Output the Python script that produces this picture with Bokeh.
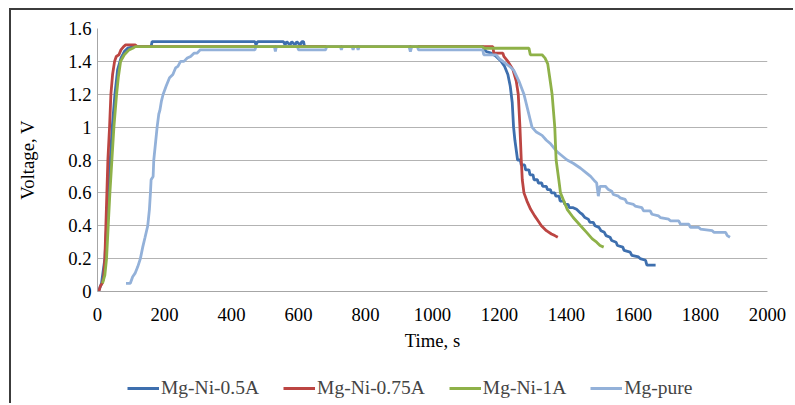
from bokeh.plotting import figure
from bokeh.layouts import column
from bokeh.models import (Legend, LegendItem, FixedTicker, CustomJSTickFormatter, Range1d)
from bokeh.embed import file_html
from bokeh.resources import INLINE

# ---- data ----
t_05 = [3, 12, 22, 30, 38, 44, 52, 60, 70, 80, 90, 110, 160, 163, 470, 473, 478, 555, 560, 565,
        575, 580, 590, 595, 605, 610, 615, 618, 1150, 1160, 1175, 1190, 1205, 1215, 1225, 1232,
        1238, 1242, 1246, 1254, 1262, 1265, 1275, 1278, 1288, 1291, 1300, 1303, 1313, 1316, 1326,
        1329, 1340, 1343, 1352, 1355, 1365, 1368, 1378, 1381, 1392, 1395, 1405, 1408, 1420, 1430,
        1440, 1447, 1455, 1465, 1470, 1480, 1485, 1497, 1503, 1513, 1518, 1530, 1535, 1548, 1552,
        1568, 1572, 1590, 1595, 1615, 1620, 1636, 1640, 1666]
v_05 = [0.0, 0.05, 0.2, 0.5, 0.8, 1.0, 1.2, 1.35, 1.42, 1.46, 1.48, 1.49, 1.49, 1.52, 1.52, 1.50,
        1.52, 1.52, 1.50, 1.52, 1.50, 1.52, 1.50, 1.52, 1.50, 1.52, 1.52, 1.49, 1.49, 1.46, 1.45,
        1.43, 1.40, 1.37, 1.32, 1.25, 1.15, 1.0, 0.92, 0.80, 0.80, 0.77, 0.77, 0.74, 0.74, 0.71,
        0.71, 0.68, 0.68, 0.66, 0.66, 0.64, 0.64, 0.62, 0.62, 0.60, 0.60, 0.58, 0.58, 0.55, 0.55,
        0.53, 0.53, 0.51, 0.51, 0.50, 0.48, 0.47, 0.45, 0.44, 0.42, 0.42, 0.40, 0.39, 0.37, 0.36,
        0.34, 0.33, 0.31, 0.30, 0.28, 0.27, 0.25, 0.24, 0.22, 0.21, 0.20, 0.19, 0.16, 0.16]

t_075 = [4, 8, 14, 18, 22, 25, 28, 31, 36, 40, 45, 51, 56, 64, 70, 78, 84, 113, 118, 1180, 1183,
         1210, 1213, 1225, 1240, 1250, 1256, 1261, 1265, 1268, 1273, 1282, 1293, 1305, 1315, 1325,
         1340, 1355, 1365, 1374]
v_075 = [0.0, 0.03, 0.05, 0.08, 0.2, 0.4, 0.6, 0.8, 1.0, 1.2, 1.32, 1.40, 1.43, 1.44, 1.47, 1.49,
         1.50, 1.50, 1.49, 1.49, 1.45, 1.45, 1.43, 1.40, 1.35, 1.28, 1.2, 1.0, 0.8, 0.68, 0.60,
         0.55, 0.50, 0.46, 0.43, 0.40, 0.37, 0.35, 0.34, 0.33]

t_1 = [15, 22, 27, 32, 37, 43, 49, 57, 62, 69, 80, 94, 105, 113, 1148, 1155, 1288, 1292, 1327,
       1336, 1344, 1350, 1357, 1365, 1369, 1377, 1382, 1392, 1402, 1420, 1442, 1460, 1477, 1490,
       1500, 1511]
v_1 = [0.05, 0.10, 0.2, 0.4, 0.6, 0.8, 1.0, 1.2, 1.3, 1.40, 1.44, 1.47, 1.48, 1.49, 1.49, 1.48,
       1.48, 1.44, 1.44, 1.42, 1.385, 1.30, 1.2, 1.0, 0.8, 0.68, 0.60, 0.55, 0.50, 0.45, 0.40,
       0.36, 0.32, 0.30, 0.28, 0.27]

t_pure = [85, 98, 105, 112, 120, 128, 135, 142, 150, 155, 158, 160, 166, 168, 173, 178, 183, 186,
          191, 196, 205, 215, 225, 233, 240, 248, 258, 268, 278, 288, 297, 307, 470, 473, 528,
          531, 534, 597, 600, 681, 684, 725, 728, 731, 760, 763, 766, 775, 778, 781, 930, 934,
          938, 955, 958, 1150, 1153, 1190, 1200, 1213, 1230, 1243, 1258, 1273, 1285, 1297, 1310,
          1327, 1340, 1352, 1372, 1390, 1402, 1420, 1442, 1460, 1472, 1485, 1490, 1495, 1500,
          1516, 1525, 1535, 1540, 1555, 1560, 1575, 1580, 1600, 1605, 1625, 1630, 1650, 1655,
          1675, 1680, 1705, 1710, 1735, 1740, 1765, 1770, 1795, 1800, 1835, 1840, 1875, 1880, 1888]
v_pure = [0.05, 0.05, 0.09, 0.11, 0.15, 0.2, 0.27, 0.33, 0.4, 0.5, 0.6, 0.68, 0.70, 0.8, 0.9,
          1.0, 1.08, 1.1, 1.16, 1.2, 1.25, 1.30, 1.32, 1.36, 1.37, 1.40, 1.40, 1.42, 1.43, 1.45,
          1.45, 1.47, 1.47, 1.49, 1.49, 1.46, 1.49, 1.49, 1.47, 1.47, 1.49, 1.49, 1.47, 1.49,
          1.49, 1.47, 1.49, 1.49, 1.47, 1.49, 1.49, 1.46, 1.49, 1.49, 1.47, 1.47, 1.44, 1.44,
          1.415, 1.395, 1.37, 1.344, 1.28, 1.2, 1.1, 1.0, 0.97, 0.95, 0.92, 0.90, 0.85, 0.82,
          0.80, 0.78, 0.75, 0.72, 0.70, 0.67, 0.66, 0.58, 0.64,
          0.64, 0.62, 0.61, 0.59, 0.58, 0.57, 0.56, 0.54, 0.53, 0.52, 0.51, 0.49, 0.49, 0.47,
          0.46, 0.45, 0.44, 0.43, 0.43, 0.41, 0.41, 0.39, 0.39, 0.38, 0.37, 0.36, 0.36, 0.34, 0.33]

series_names = ["Mg-Ni-0.5A", "Mg-Ni-0.75A", "Mg-Ni-1A", "Mg-pure"]
x_ticks = [0, 200, 400, 600, 800, 1000, 1200, 1400, 1600, 1800, 2000]
y_ticks = [0, 0.2, 0.4, 0.6, 0.8, 1.0, 1.2, 1.4, 1.6]

colors = ["#3e6fae", "#bc4542", "#8eb148", "#93b1d9"]
FONT = "Liberation Serif"
series = [(t_05, v_05), (t_075, v_075), (t_1, v_1), (t_pure, v_pure)]

# ---- main chart ----
p = figure(width=784, height=351, output_backend="svg", toolbar_location=None,
           x_range=Range1d(0, 2000), y_range=Range1d(0, 1.6),
           min_border_left=86, min_border_right=28, min_border_top=18, min_border_bottom=70)
p.styles = {"margin-left": "9px", "margin-top": "8px",
            "border-left": "2px solid #3c3c3c", "border-top": "2px solid #3c3c3c"}
p.outline_line_color = None
p.background_fill_color = "white"
p.border_fill_color = "white"

draw_order = [0, 1, 3, 2]  # green drawn on top, as in the reference
for i in draw_order:
    tx, vy = series[i]
    p.line(tx, vy, line_color=colors[i], line_width=2.8)

p.xaxis.ticker = FixedTicker(ticks=x_ticks)
p.yaxis.ticker = FixedTicker(ticks=y_ticks)
p.yaxis.formatter = CustomJSTickFormatter(code="return Number(tick.toFixed(1)).toString();")
p.xgrid.grid_line_color = None
p.ygrid.grid_line_color = "#b3b3b3"
p.ygrid.grid_line_width = 1

for ax in (p.xaxis, p.yaxis):
    ax.axis_line_color = "#a6a6a6"
    ax.major_tick_line_color = None
    ax.minor_tick_line_color = None
    ax.major_tick_out = 0
    ax.major_tick_in = 0
    ax.major_label_text_font = FONT
    ax.major_label_text_font_size = "14pt"
    ax.major_label_text_color = "black"
    ax.axis_label_text_font = FONT
    ax.axis_label_text_font_size = "14pt"
    ax.axis_label_text_font_style = "normal"
    ax.axis_label_text_color = "black"

p.xaxis.axis_label = "Time, s"
p.yaxis.axis_label = "Voltage, V"
p.xaxis.major_label_standoff = 16
p.xaxis.axis_label_standoff = 6
p.yaxis.major_label_standoff = 6
p.yaxis.axis_label_standoff = 27

# ---- legend strip (same series, drawn outside its view so only the legend shows) ----
lg = figure(width=784, height=44, output_backend="svg", toolbar_location=None,
            x_range=Range1d(-20, -10), y_range=Range1d(0, 1.6),
            x_axis_location=None, y_axis_location=None,
            min_border_left=0, min_border_right=0, min_border_top=0, min_border_bottom=0)
lg.styles = {"margin-left": "9px", "border-left": "2px solid #3c3c3c"}
lg.outline_line_color = None
lg.xgrid.visible = False
lg.ygrid.visible = False
items = []
for i, (tx, vy) in enumerate(series):
    r = lg.line(tx, vy, line_color=colors[i], line_width=2.8)
    items.append(LegendItem(label=series_names[i], renderers=[r]))

legend = Legend(items=items, orientation="horizontal", location=(30, 4), margin=0, padding=0,
                spacing=24, glyph_width=32, glyph_height=16, label_standoff=2,
                label_text_font=FONT, label_text_font_size="19.5px", label_height=16,
                border_line_color=None, background_fill_alpha=0)
lg.add_layout(legend, "center")

layout = column(p, lg, spacing=0)
open("out.html", "w").write(file_html(layout, INLINE))
